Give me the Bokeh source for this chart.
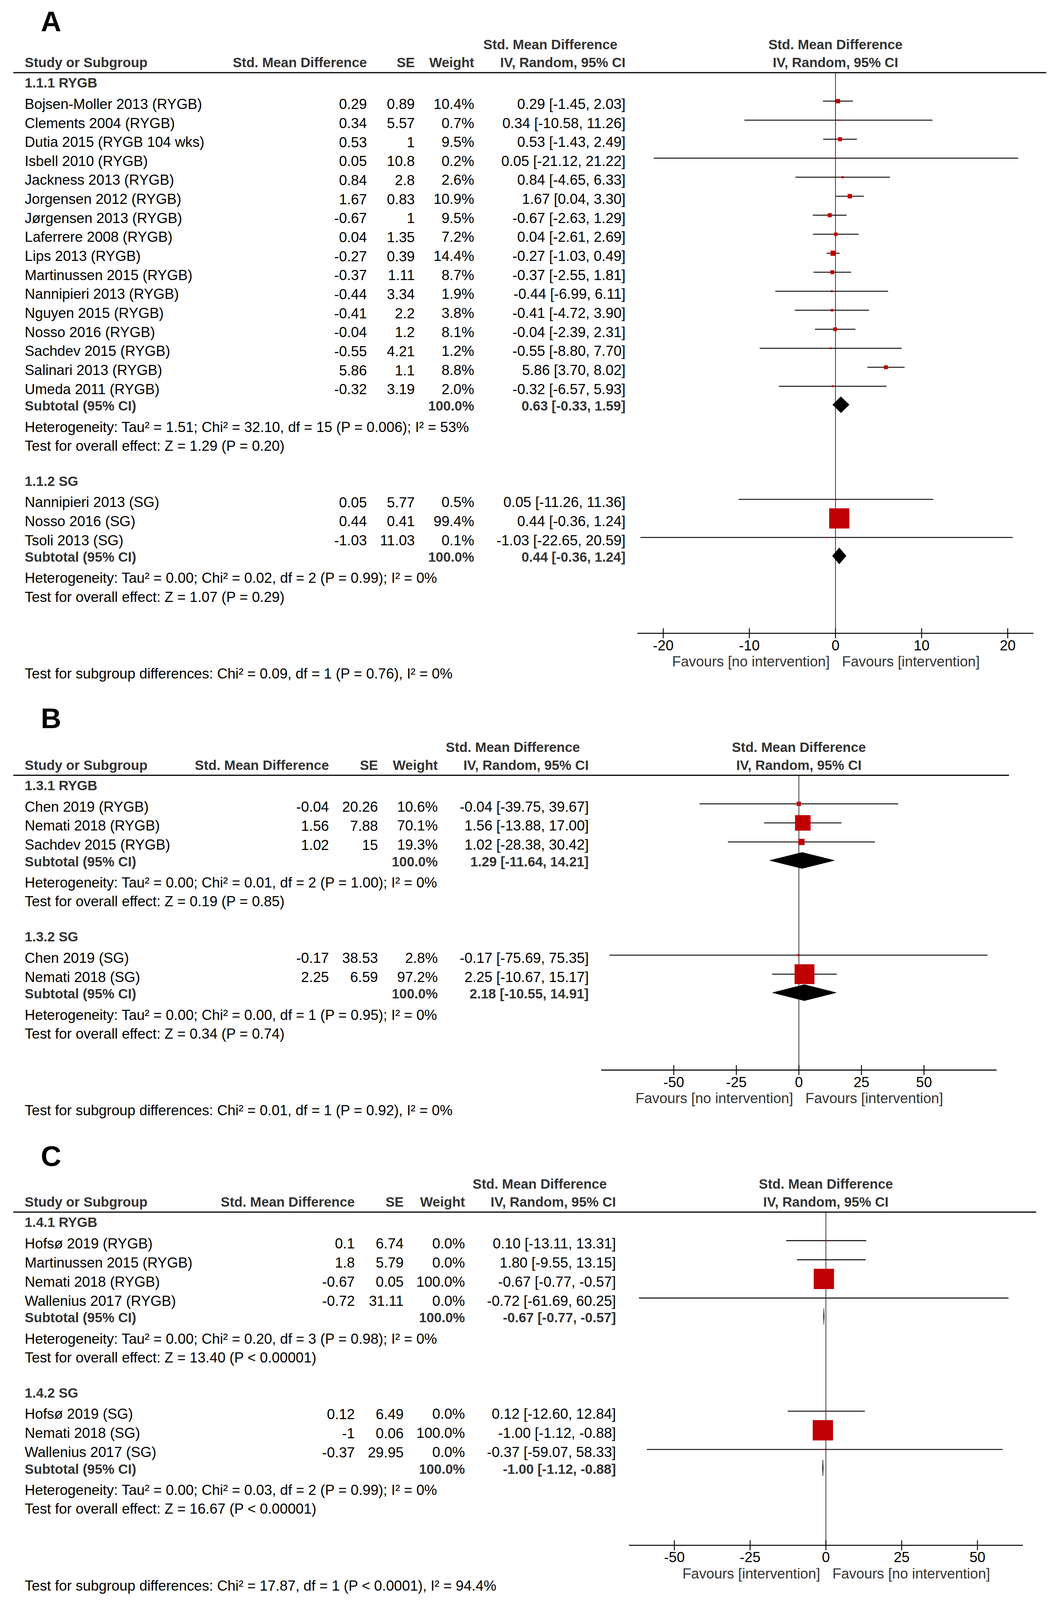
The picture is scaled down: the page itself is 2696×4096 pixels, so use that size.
from bokeh.plotting import figure
from bokeh.models import Range1d, ColumnDataSource
from bokeh.core.properties import value
from bokeh.embed import file_html
from bokeh.resources import INLINE

# ======================= DATA =======================
# ---- Panel A ----
A_ticks = [-20, -10, 0, 10, 20]
A_fav = ["Favours [no intervention]", "Favours [intervention]"]
A_diff = "Test for subgroup differences: Chi\u00b2 = 0.09, df = 1 (P = 0.76), I\u00b2 = 0%"

A1_name = "1.1.1 RYGB"
A1_study = ["Bojsen-Moller 2013 (RYGB)", "Clements 2004 (RYGB)", "Dutia 2015 (RYGB 104 wks)",
            "Isbell 2010 (RYGB)", "Jackness 2013 (RYGB)", "Jorgensen 2012 (RYGB)",
            "J\u00f8rgensen 2013 (RYGB)", "Laferrere 2008 (RYGB)", "Lips 2013 (RYGB)",
            "Martinussen 2015 (RYGB)", "Nannipieri 2013 (RYGB)", "Nguyen 2015 (RYGB)",
            "Nosso 2016 (RYGB)", "Sachdev 2015 (RYGB)", "Salinari 2013 (RYGB)", "Umeda 2011 (RYGB)"]
A1_smd = [0.29, 0.34, 0.53, 0.05, 0.84, 1.67, -0.67, 0.04, -0.27, -0.37, -0.44, -0.41, -0.04, -0.55, 5.86, -0.32]
A1_se = [0.89, 5.57, 1, 10.8, 2.8, 0.83, 1, 1.35, 0.39, 1.11, 3.34, 2.2, 1.2, 4.21, 1.1, 3.19]
A1_weight = [10.4, 0.7, 9.5, 0.2, 2.6, 10.9, 9.5, 7.2, 14.4, 8.7, 1.9, 3.8, 8.1, 1.2, 8.8, 2.0]
A1_lo = [-1.45, -10.58, -1.43, -21.12, -4.65, 0.04, -2.63, -2.61, -1.03, -2.55, -6.99, -4.72, -2.39, -8.80, 3.70, -6.57]
A1_hi = [2.03, 11.26, 2.49, 21.22, 6.33, 3.30, 1.29, 2.69, 0.49, 1.81, 6.11, 3.90, 2.31, 7.70, 8.02, 5.93]
A1_total = [0.63, -0.33, 1.59]
A1_het = "Heterogeneity: Tau\u00b2 = 1.51; Chi\u00b2 = 32.10, df = 15 (P = 0.006); I\u00b2 = 53%"
A1_test = "Test for overall effect: Z = 1.29 (P = 0.20)"

A2_name = "1.1.2 SG"
A2_study = ["Nannipieri 2013 (SG)", "Nosso 2016 (SG)", "Tsoli 2013 (SG)"]
A2_smd = [0.05, 0.44, -1.03]
A2_se = [5.77, 0.41, 11.03]
A2_weight = [0.5, 99.4, 0.1]
A2_lo = [-11.26, -0.36, -22.65]
A2_hi = [11.36, 1.24, 20.59]
A2_total = [0.44, -0.36, 1.24]
A2_het = "Heterogeneity: Tau\u00b2 = 0.00; Chi\u00b2 = 0.02, df = 2 (P = 0.99); I\u00b2 = 0%"
A2_test = "Test for overall effect: Z = 1.07 (P = 0.29)"

# ---- Panel B ----
B_ticks = [-50, -25, 0, 25, 50]
B_fav = ["Favours [no intervention]", "Favours [intervention]"]
B_diff = "Test for subgroup differences: Chi\u00b2 = 0.01, df = 1 (P = 0.92), I\u00b2 = 0%"

B1_name = "1.3.1 RYGB"
B1_study = ["Chen 2019 (RYGB)", "Nemati 2018 (RYGB)", "Sachdev 2015 (RYGB)"]
B1_smd = [-0.04, 1.56, 1.02]
B1_se = [20.26, 7.88, 15]
B1_weight = [10.6, 70.1, 19.3]
B1_lo = [-39.75, -13.88, -28.38]
B1_hi = [39.67, 17.00, 30.42]
B1_total = [1.29, -11.64, 14.21]
B1_het = "Heterogeneity: Tau\u00b2 = 0.00; Chi\u00b2 = 0.01, df = 2 (P = 1.00); I\u00b2 = 0%"
B1_test = "Test for overall effect: Z = 0.19 (P = 0.85)"

B2_name = "1.3.2 SG"
B2_study = ["Chen 2019 (SG)", "Nemati 2018 (SG)"]
B2_smd = [-0.17, 2.25]
B2_se = [38.53, 6.59]
B2_weight = [2.8, 97.2]
B2_lo = [-75.69, -10.67]
B2_hi = [75.35, 15.17]
B2_total = [2.18, -10.55, 14.91]
B2_het = "Heterogeneity: Tau\u00b2 = 0.00; Chi\u00b2 = 0.00, df = 1 (P = 0.95); I\u00b2 = 0%"
B2_test = "Test for overall effect: Z = 0.34 (P = 0.74)"

# ---- Panel C ----
C_ticks = [-50, -25, 0, 25, 50]
C_fav = ["Favours [intervention]", "Favours [no intervention]"]
C_diff = "Test for subgroup differences: Chi\u00b2 = 17.87, df = 1 (P < 0.0001), I\u00b2 = 94.4%"

C1_name = "1.4.1 RYGB"
C1_study = ["Hofs\u00f8 2019 (RYGB)", "Martinussen 2015 (RYGB)", "Nemati 2018 (RYGB)", "Wallenius 2017 (RYGB)"]
C1_smd = [0.1, 1.8, -0.67, -0.72]
C1_se = [6.74, 5.79, 0.05, 31.11]
C1_weight = [0.0, 0.0, 100.0, 0.0]
C1_lo = [-13.11, -9.55, -0.77, -61.69]
C1_hi = [13.31, 13.15, -0.57, 60.25]
C1_total = [-0.67, -0.77, -0.57]
C1_het = "Heterogeneity: Tau\u00b2 = 0.00; Chi\u00b2 = 0.20, df = 3 (P = 0.98); I\u00b2 = 0%"
C1_test = "Test for overall effect: Z = 13.40 (P < 0.00001)"

C2_name = "1.4.2 SG"
C2_study = ["Hofs\u00f8 2019 (SG)", "Nemati 2018 (SG)", "Wallenius 2017 (SG)"]
C2_smd = [0.12, -1, -0.37]
C2_se = [6.49, 0.06, 29.95]
C2_weight = [0.0, 100.0, 0.0]
C2_lo = [-12.60, -1.12, -59.07]
C2_hi = [12.84, -0.88, 58.33]
C2_total = [-1.00, -1.12, -0.88]
C2_het = "Heterogeneity: Tau\u00b2 = 0.00; Chi\u00b2 = 0.03, df = 2 (P = 0.99); I\u00b2 = 0%"
C2_test = "Test for overall effect: Z = 16.67 (P < 0.00001)"

# ======================= LAYOUT =======================
S = 0.981
W, H = 2680, 4080
FONT = "Liberation Sans"
SIZES = {"reg": 37.4, "bold": 35.4, "letter": 74}
HC = "#333333"
RED = "#C00000"

panels = [
    dict(letter="A", letter_y=55, line_y=189, line_x1=2730, zero=2180, ppu=22.475, lim=23, row=49.6,
         c_smd=957, c_se=1082, c_w=1237, c_ci=1632, hdr1=1436, fav=A_fav, ticks=A_ticks, diff=A_diff,
         groups=[(A1_name, A1_study, A1_smd, A1_se, A1_weight, A1_lo, A1_hi, A1_total, A1_het, A1_test),
                 (A2_name, A2_study, A2_smd, A2_se, A2_weight, A2_lo, A2_hi, A2_total, A2_het, A2_test)]),
    dict(letter="B", letter_y=1873.6, line_y=2022.6, line_x1=2633, zero=2084.5, ppu=6.53, lim=79, row=49.8,
         c_smd=858, c_se=986, c_w=1142, c_ci=1536, hdr1=1338, fav=B_fav, ticks=B_ticks, diff=B_diff,
         groups=[(B1_name, B1_study, B1_smd, B1_se, B1_weight, B1_lo, B1_hi, B1_total, B1_het, B1_test),
                 (B2_name, B2_study, B2_smd, B2_se, B2_weight, B2_lo, B2_hi, B2_total, B2_het, B2_test)]),
    dict(letter="C", letter_y=3016, line_y=3162.5, line_x1=2704, zero=2155, ppu=7.91, lim=65, row=49.95,
         c_smd=925.5, c_se=1053, c_w=1213, c_ci=1607, hdr1=1408, fav=C_fav, ticks=C_ticks, diff=C_diff,
         groups=[(C1_name, C1_study, C1_smd, C1_se, C1_weight, C1_lo, C1_hi, C1_total, C1_het, C1_test),
                 (C2_name, C2_study, C2_smd, C2_se, C2_weight, C2_lo, C2_hi, C2_total, C2_het, C2_test)]),
]

p = figure(width=W, height=H,
           x_range=Range1d(0, W / S),
           y_range=Range1d(H / S, 0),
           output_backend="svg", toolbar_location=None,
           x_axis_location=None, y_axis_location=None, min_border=0)
p.grid.visible = False
p.outline_line_color = None
p.background_fill_color = "white"
p.border_fill_color = "white"

texts = {}


def T(x, yc, s, align="left", style="reg", color="#000000", rng="default", dx=0.0):
    key = (style, align, color, rng, dx)
    d = texts.setdefault(key, dict(x=[], y=[], text=[]))
    d["x"].append(x)
    d["y"].append(yc)
    d["text"].append(s)


def g(v):
    return f"{v:g}"


def ci(e, lo, hi):
    return f"{e:.2f} [{lo:.2f}, {hi:.2f}]"


def box_side(w):
    return 3 + 1.256 * w ** 0.8


hlines = []
for P in panels:
    fr = "f" + P["letter"]
    z, ppu, ROW = P["zero"], P["ppu"], P["row"]
    p.extra_x_ranges[fr] = Range1d((0 - z) / ppu, (W / S - z) / ppu)
    ly = P["line_y"]
    T(106, P["letter_y"], P["letter"], style="letter")
    T(P["hdr1"], ly - 73, "Std. Mean Difference", "center", "bold", HC)
    T(64, ly - 26, "Study or Subgroup", "left", "bold", HC)
    T(P["c_smd"], ly - 26, "Std. Mean Difference", "right", "bold", HC)
    T(P["c_se"], ly - 26, "SE", "right", "bold", HC)
    T(P["c_w"], ly - 26, "Weight", "right", "bold", HC)
    T(P["c_ci"], ly - 26, "IV, Random, 95% CI", "right", "bold", HC)
    T(0, ly - 73, "Std. Mean Difference", "center", "bold", HC, fr)
    T(0, ly - 26, "IV, Random, 95% CI", "center", "bold", HC, fr)
    hlines.append((34, ly, P["line_x1"], ly))

    seg = dict(x0=[], y0=[], x1=[], y1=[])
    sq = dict(x=[], y=[], size=[])
    dia = dict(xs=[], ys=[])
    y = ly + 27
    for (name, study, smd, se, w, lo, hi, tot, het, test) in P["groups"]:
        T(64, y, name, "left", "bold", HC)
        y0 = y + 55
        for i in range(len(study)):
            ty = y0 + i * ROW
            T(64, ty, study[i])
            T(P["c_smd"], ty, g(smd[i]), "right")
            T(P["c_se"], ty, g(se[i]), "right")
            T(P["c_w"], ty, f"{w[i]:.1f}%", "right")
            T(P["c_ci"], ty, ci(smd[i], lo[i], hi[i]), "right")
            my = ty - 7.5
            seg["x0"].append(lo[i]); seg["x1"].append(hi[i])
            seg["y0"].append(my); seg["y1"].append(my)
            sq["x"].append(smd[i]); sq["y"].append(my)
            sq["size"].append(box_side(w[i]) * S)
        sy = y0 + (len(study) - 1) * ROW + 43.7
        T(64, sy, "Subtotal (95% CI)", "left", "bold", HC)
        T(P["c_w"], sy, "100.0%", "right", "bold", HC)
        T(P["c_ci"], sy, ci(*tot), "right", "bold", HC)
        dy = sy - 3
        dia["xs"].append([tot[1], tot[0], tot[2], tot[0]])
        dia["ys"].append([dy, dy - 21, dy, dy + 21])
        hy = sy + 55
        T(64, hy, het)
        tty = hy + 49
        T(64, tty, test)
        y = tty + 92.5
    ay = tty + 95
    # forest decorations
    p.segment(x0=[0], y0=[ly], x1=[0], y1=[ay], x_range_name=fr, line_color="#333333", line_width=2 * S)
    p.segment(x0=[-P["lim"]], y0=[ay], x1=[P["lim"]], y1=[ay], x_range_name=fr,
              line_color="black", line_width=2.6 * S)
    tk = P["ticks"]
    p.segment(x0=tk, y0=[ay - 13] * len(tk), x1=tk, y1=[ay + 13] * len(tk), x_range_name=fr,
              line_color="black", line_width=2.4 * S)
    for t in tk:
        T(t, ay + 31, g(t), "center", "reg", "#000000", fr)
    T(0, ay + 74, P["fav"][0], "right", "reg", HC, fr, -15)
    T(0, ay + 74, P["fav"][1], "left", "reg", HC, fr, 17)
    T(64, ay + 105, P["diff"])
    # study marks
    p.segment(x0="x0", y0="y0", x1="x1", y1="y1", source=ColumnDataSource(seg), x_range_name=fr,
              line_color="black", line_width=2.3 * S)
    p.scatter(x="x", y="y", size="size", source=ColumnDataSource(sq), marker="square",
              fill_color=RED, line_color=None, x_range_name=fr)
    p.patches(xs="xs", ys="ys", source=ColumnDataSource(dia), x_range_name=fr,
              fill_color="black", line_color="black", line_width=1)

p.segment(x0=[h[0] for h in hlines], y0=[h[1] for h in hlines],
          x1=[h[2] for h in hlines], y1=[h[3] for h in hlines],
          line_color="black", line_width=3 * S)

for (style, align, color, rng, dx), d in texts.items():
    p.text(x="x", y="y", text="text", source=ColumnDataSource(d),
           text_font=value(FONT), text_font_size=value(f"{SIZES[style] * S:.2f}px"),
           text_font_style="normal" if style == "reg" else "bold",
           text_align=align, text_baseline="middle", text_color=color,
           x_offset=dx * S, x_range_name=rng)

open("out.html", "w").write(file_html(p, INLINE))
